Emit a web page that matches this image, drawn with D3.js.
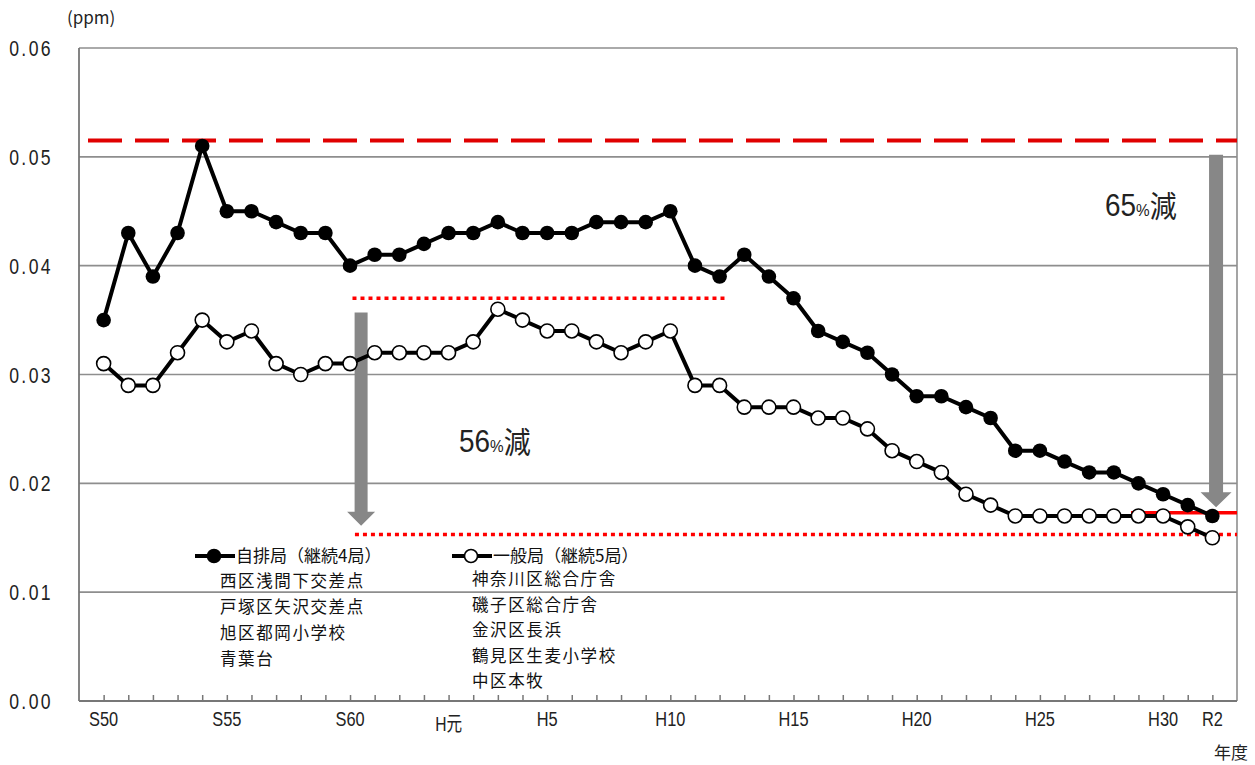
<!DOCTYPE html>
<html><head><meta charset="utf-8">
<script src="https://cdn.jsdelivr.net/npm/d3@7"></script>
<style>
html,body{margin:0;padding:0;background:#fff;}
svg{display:block;}
</style>
</head><body>
<svg id="chart" width="1255" height="765"></svg>
<script>
// ---- data ----
const years = ["S50","S51","S52","S53","S54","S55","S56","S57","S58","S59","S60","S61","S62","S63","H元","H2","H3","H4","H5","H6","H7","H8","H9","H10","H11","H12","H13","H14","H15","H16","H17","H18","H19","H20","H21","H22","H23","H24","H25","H26","H27","H28","H29","H30","R1","R2"];
const jihai = [0.035,0.043,0.039,0.043,0.051,0.045,0.045,0.044,0.043,0.043,0.040,0.041,0.041,0.042,0.043,0.043,0.044,0.043,0.043,0.043,0.044,0.044,0.044,0.045,0.040,0.039,0.041,0.039,0.037,0.034,0.033,0.032,0.030,0.028,0.028,0.027,0.026,0.023,0.023,0.022,0.021,0.021,0.020,0.019,0.018,0.017];
const ippan = [0.031,0.029,0.029,0.032,0.035,0.033,0.034,0.031,0.030,0.031,0.031,0.032,0.032,0.032,0.032,0.033,0.036,0.035,0.034,0.034,0.033,0.032,0.033,0.034,0.029,0.029,0.027,0.027,0.027,0.026,0.026,0.025,0.023,0.022,0.021,0.019,0.018,0.017,0.017,0.017,0.017,0.017,0.017,0.017,0.016,0.015];
const xTickLabels = ["S50","S55","S60","H元","H5","H10","H15","H20","H25","H30","R2"];
const yTicks = [0,0.01,0.02,0.03,0.04,0.05,0.06];
const yTickLabels = ["0.00","0.01","0.02","0.03","0.04","0.05","0.06"];
const jihaiStations = ["西区浅間下交差点","戸塚区矢沢交差点","旭区都岡小学校","青葉台"];
const ippanStations = ["神奈川区総合庁舎","磯子区総合庁舎","金沢区長浜","鶴見区生麦小学校","中区本牧"];
const seriesNames = ["自排局（継続4局）","一般局（継続5局）"];
const refPeak = 0.0515;      // dashed reference (自排局 peak)
const refIppanHigh = 0.037;  // dotted (一般局 level)
const refIppanLow = 0.0153;  // dotted (一般局 R2)
const refJihaiLow = 0.0173;  // solid (自排局 R2)
const annotations = ["56%減","65%減"];

// ---- layout ----
const svg = d3.select("#chart");
const L = 79, R = 1237, T = 48, B = 701;
const x = d3.scalePoint().domain(years).range([L, R]).padding(1);
const step = x.step();
const xi = i => x(years[0]) + i * step;   // fractional category position
const y = d3.scaleLinear().domain([0, 0.06]).range([B, T]);
const latin = "'Liberation Sans', Arial, sans-serif";
const jp = "'Noto Sans CJK JP', sans-serif";

// condensed text helper
function ctext(parent, px, py, sx) {
  return parent.append("g").attr("transform", `translate(${px},${py}) scale(${sx},1)`).append("text");
}

const gridCol = "#8e8e8e";
svg.append("g").selectAll("line").data(yTicks.filter(d => d > 0)).join("line")
  .attr("x1", L).attr("x2", R).attr("y1", d => y(d)).attr("y2", d => y(d))
  .attr("stroke", gridCol).attr("stroke-width", 1.6);
svg.append("line").attr("x1", L).attr("x2", L).attr("y1", T).attr("y2", B).attr("stroke", "#777").attr("stroke-width", 1.8);
svg.append("line").attr("x1", R).attr("x2", R).attr("y1", T).attr("y2", B).attr("stroke", gridCol).attr("stroke-width", 1.6);

// x axis (ticks pointing inside)
const xAxis = d3.axisBottom(x).tickSizeInner(-6).tickSizeOuter(0).tickFormat("");
const gx = svg.append("g").attr("transform", `translate(0,${B})`).call(xAxis);
gx.select(".domain").attr("stroke", "#777").attr("stroke-width", 1.8).attr("d", `M${L},0H${R}`);
gx.selectAll(".tick line").attr("stroke", "#777").attr("stroke-width", 1.5);

// x tick labels (condensed)
const gxl = svg.append("g");
xTickLabels.forEach(lab => {
  const isGan = lab === "H元";
  const t = ctext(gxl, x(lab), isGan ? 731 : 726, 0.78)
    .attr("text-anchor", "middle").attr("fill", "#222");
  if (isGan) {
    t.append("tspan").attr("font-family", latin).attr("font-size", 20).text("H");
    t.append("tspan").attr("font-family", jp).attr("font-size", 20).text("元");
  } else {
    t.attr("font-family", latin).attr("font-size", 21).text(lab);
  }
});

// y tick labels
const gyl = svg.append("g");
yTicks.forEach((v, i) => {
  ctext(gyl, 53, y(v) + 8, 0.8)
    .attr("text-anchor", "end").attr("font-family", latin).attr("font-size", 22)
    .attr("letter-spacing", 3).attr("fill", "#222").text(yTickLabels[i]);
});

svg.append("text").attr("x", 67).attr("y", 24).attr("font-family", jp).attr("font-size", 17).attr("fill", "#222").text("(ppm)");
svg.append("text").attr("x", 1214).attr("y", 759).attr("font-family", jp).attr("font-size", 17).attr("fill", "#222").text("年度");

// reference lines
const red = "#ff0000";
svg.append("line").attr("x1", 88).attr("x2", R).attr("y1", y(refPeak)).attr("y2", y(refPeak))
  .attr("stroke", "#e00000").attr("stroke-width", 4).attr("stroke-dasharray", "34,13");
svg.append("line").attr("x1", xi(10.1)).attr("x2", xi(25.3)).attr("y1", y(refIppanHigh)).attr("y2", y(refIppanHigh))
  .attr("stroke", red).attr("stroke-width", 3.5).attr("stroke-dasharray", "4,4");
svg.append("line").attr("x1", xi(10.2)).attr("x2", R).attr("y1", y(refIppanLow)).attr("y2", y(refIppanLow))
  .attr("stroke", red).attr("stroke-width", 3.5).attr("stroke-dasharray", "4,4");
svg.append("line").attr("x1", xi(41.7)).attr("x2", R).attr("y1", y(refJihaiLow)).attr("y2", y(refJihaiLow))
  .attr("stroke", red).attr("stroke-width", 3.5);

// arrows
function arrow(cx, yTop, yTip, shaftW, headW, headH) {
  const hw = shaftW / 2, hh = headW / 2;
  const pts = [[cx - hw, yTop], [cx + hw, yTop], [cx + hw, yTip - headH], [cx + hh, yTip - headH], [cx, yTip], [cx - hh, yTip - headH], [cx - hw, yTip - headH]];
  svg.append("path").attr("d", d3.line()(pts) + "Z").attr("fill", "#878787");
}
arrow(xi(10.45), y(0.0357), y(0.0161), 13, 28, 14);
arrow(xi(45.15), y(0.0502), y(0.0178), 14, 31, 15);

// annotation texts
function annot(x0, yb, txt) {
  const t = ctext(svg, x0, yb, 0.9).attr("fill", "#222");
  const m = txt.match(/^(\d+)(%)(.*)$/);
  t.append("tspan").attr("font-family", latin).attr("font-size", 31).text(m[1]);
  t.append("tspan").attr("font-family", latin).attr("font-size", 17).text(m[2]);
  t.append("tspan").attr("font-family", jp).attr("font-size", 30).attr("dy", 1).text(m[3]);
}
annot(459, 452, annotations[0]);
annot(1105, 216, annotations[1]);

// series lines
const line = d3.line().x((d, i) => x(years[i])).y(d => y(d));
svg.append("path").datum(ippan).attr("d", line).attr("fill", "none").attr("stroke", "#000").attr("stroke-width", 4).attr("stroke-linejoin", "round");
svg.append("path").datum(jihai).attr("d", line).attr("fill", "none").attr("stroke", "#000").attr("stroke-width", 4).attr("stroke-linejoin", "round");
svg.append("g").selectAll("circle").data(ippan).join("circle")
  .attr("cx", (d, i) => x(years[i])).attr("cy", d => y(d)).attr("r", 7)
  .attr("fill", "#fff").attr("stroke", "#000").attr("stroke-width", 1.6);
svg.append("g").selectAll("circle").data(jihai).join("circle")
  .attr("cx", (d, i) => x(years[i])).attr("cy", d => y(d)).attr("r", 7.3)
  .attr("fill", "#000");

// legend
function legendHeader(x0, cy, filled, name) {
  svg.append("line").attr("x1", x0).attr("x2", x0 + 40).attr("y1", cy).attr("y2", cy).attr("stroke", "#000").attr("stroke-width", 4);
  svg.append("circle").attr("cx", x0 + 19).attr("cy", cy).attr("r", 6.5).attr("fill", filled ? "#000" : "#fff").attr("stroke", "#000").attr("stroke-width", 1.6);
  svg.append("text").attr("x", x0 + 41).attr("y", cy + 6).attr("font-family", jp).attr("font-size", 17).attr("fill", "#111").text(name);
}
legendHeader(195, 556, true, seriesNames[0]);
legendHeader(452, 556, false, seriesNames[1]);
svg.append("g").selectAll("text").data(jihaiStations).join("text")
  .attr("x", 220).attr("y", (d, i) => 587 + i * 26)
  .attr("font-family", jp).attr("font-size", 16.5).attr("letter-spacing", 1.6).attr("fill", "#111").text(d => d);
svg.append("g").selectAll("text").data(ippanStations).join("text")
  .attr("x", 472).attr("y", (d, i) => 585 + i * 25.5)
  .attr("font-family", jp).attr("font-size", 16.5).attr("letter-spacing", 1.6).attr("fill", "#111").text(d => d);
</script>
</body></html>
